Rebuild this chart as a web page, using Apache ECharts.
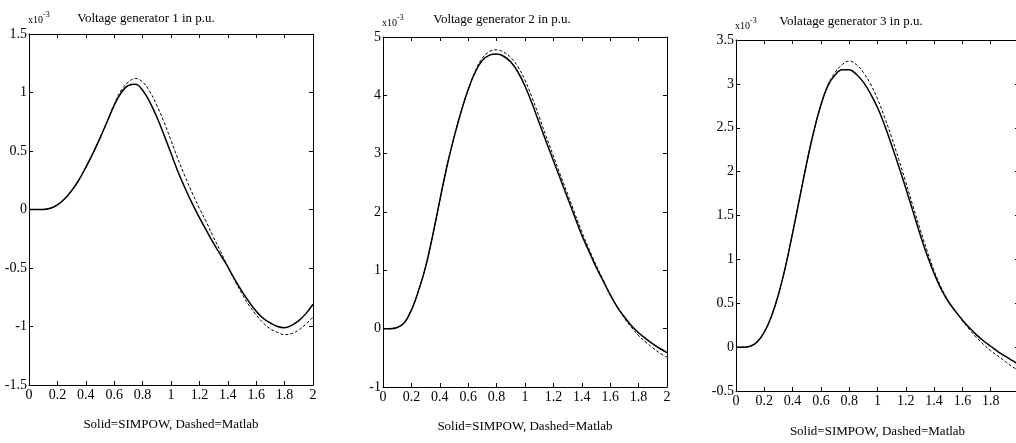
<!DOCTYPE html>
<html>
<head>
<meta charset="utf-8">
<script src="https://cdn.jsdelivr.net/npm/echarts@6/dist/echarts.min.js"></script>
<style>
html,body{margin:0;padding:0;background:#fff;}
#c{width:1016px;height:443px;}
</style>
</head>
<body>
<div id="c"></div>
<script>
// time axis (s), 0.05 s steps
const t = [0,0.05,0.1,0.15,0.2,0.25,0.3,0.35,0.4,0.45,0.5,0.55,0.6,0.65,0.7,0.75,0.8,0.85,0.9,0.95,
           1.0,1.05,1.1,1.15,1.2,1.25,1.3,1.35,1.4,1.45,1.5,1.55,1.6,1.65,1.7,1.75,1.8,1.85,1.9,1.95,2.0];
// values in units of 1e-3 p.u.
const gen1Simpow = [0,0,0,0.01,0.04,0.09,0.16,0.25,0.36,0.48,0.61,0.75,0.89,1.0,1.06,1.07,1.02,0.92,0.79,0.64,
                    0.48,0.32,0.18,0.05,-0.07,-0.18,-0.29,-0.39,-0.49,-0.6,-0.7,-0.79,-0.87,-0.93,-0.97,-1.0,-1.01,-0.99,-0.95,-0.89,-0.81];
const gen1Matlab = [0,0,0,0.01,0.04,0.09,0.16,0.25,0.36,0.48,0.61,0.75,0.9,1.02,1.09,1.12,1.09,1.01,0.89,0.75,
                    0.59,0.43,0.28,0.14,0.01,-0.11,-0.24,-0.36,-0.49,-0.61,-0.72,-0.82,-0.9,-0.97,-1.02,-1.05,-1.07,-1.06,-1.03,-0.98,-0.92];
const gen2Simpow = [0,0,0.02,0.1,0.32,0.65,1.06,1.6,2.2,2.78,3.28,3.72,4.1,4.4,4.6,4.69,4.71,4.67,4.57,4.4,
                    4.16,3.86,3.53,3.2,2.88,2.56,2.24,1.92,1.6,1.33,1.06,0.82,0.58,0.37,0.2,0.05,-0.07,-0.17,-0.26,-0.34,-0.41];
const gen2Matlab = [0,0,0.02,0.1,0.32,0.65,1.06,1.6,2.2,2.78,3.28,3.72,4.1,4.42,4.64,4.75,4.78,4.74,4.65,4.49,
                    4.26,3.96,3.63,3.29,2.96,2.63,2.31,1.98,1.66,1.37,1.09,0.84,0.59,0.37,0.18,0.02,-0.12,-0.23,-0.33,-0.42,-0.49];
const gen3Simpow = [0,0,0.01,0.06,0.17,0.35,0.6,0.92,1.3,1.7,2.1,2.46,2.76,2.98,3.1,3.16,3.16,3.11,3.02,2.89,
                    2.73,2.53,2.3,2.06,1.81,1.55,1.29,1.05,0.84,0.66,0.52,0.41,0.31,0.22,0.14,0.07,0.01,-0.05,-0.1,-0.15,-0.2];
const gen3Matlab = [0,0,0.01,0.06,0.17,0.35,0.6,0.92,1.3,1.7,2.1,2.46,2.76,2.99,3.13,3.22,3.26,3.22,3.13,3.0,
                    2.83,2.62,2.39,2.14,1.88,1.61,1.35,1.1,0.87,0.68,0.53,0.41,0.3,0.2,0.11,0.03,-0.04,-0.1,-0.16,-0.22,-0.27];

const titles = ['Voltage generator 1 in p.u.','Voltage generator 2 in p.u.','Volatage generator 3 in p.u.'];
const xLabelText = 'Solid=SIMPOW, Dashed=Matlab';
const yMins = [-1.5,-1,-0.5];
const yMaxs = [1.5,5,3.5];
const yIntervals = [0.5,1,0.5];
const simpow = [gen1Simpow, gen2Simpow, gen3Simpow];
const matlab = [gen1Matlab, gen2Matlab, gen3Matlab];

const FONT = '"Liberation Serif", "Times New Roman", serif';
const grids = [
  {left:29, top:34, width:284, height:351, outerBoundsMode:'none'},
  {left:383, top:37, width:284, height:350, outerBoundsMode:'none'},
  {left:736, top:40, width:283, height:351, outerBoundsMode:'none'}
];
const titleY = [19,20,22];
const titleX = [146,502,851];
const xlabY = [425,427,432];

const xAxes=[], yAxes=[], series=[], graphics=[];
grids.forEach((g,i)=>{
  const line = {show:true, onZero:false, lineStyle:{color:'#000', width:1}};
  const tick = {show:true, inside:true, length:4, lineStyle:{color:'#000', width:1}};
  xAxes.push({gridIndex:i, type:'value', position:'bottom', min:0, max:2, interval:0.2,
    axisLine:line, axisTick:tick, splitLine:{show:false},
    axisLabel:{color:'#000', fontFamily:FONT, fontSize:14, margin:3, showMaxLabel:i<2}});
  xAxes.push({gridIndex:i, type:'value', position:'top', min:0, max:2, interval:0.2,
    axisLine:line, axisTick:tick, splitLine:{show:false}, axisLabel:{show:false}});
  yAxes.push({gridIndex:i, type:'value', position:'left', min:yMins[i], max:yMaxs[i], interval:yIntervals[i],
    axisLine:line, axisTick:tick, splitLine:{show:false},
    axisLabel:{color:'#000', fontFamily:FONT, fontSize:14, margin:2}});
  yAxes.push({gridIndex:i, type:'value', position:'right', min:yMins[i], max:yMaxs[i], interval:yIntervals[i],
    axisLine:line, axisTick:tick, splitLine:{show:false}, axisLabel:{show:false}});
  series.push({type:'line', xAxisIndex:2*i, yAxisIndex:2*i, data:t.map((x,k)=>[x, matlab[i][k]]),
    smooth:0.4, showSymbol:false, lineStyle:{color:'#000', width:1, type:[3,2]}, silent:true});
  series.push({type:'line', xAxisIndex:2*i, yAxisIndex:2*i, data:t.map((x,k)=>[x, simpow[i][k]]),
    smooth:0.4, showSymbol:false, lineStyle:{color:'#000', width:1.5}, silent:true});
  graphics.push({type:'text', x:titleX[i], y:titleY[i], style:{text:titles[i], fill:'#000',
    font:'13px '+FONT, align:'center', verticalAlign:'middle'}});
  graphics.push({type:'text', x:g.left+g.width/2, y:xlabY[i], style:{text:xLabelText, fill:'#000',
    font:'13px '+FONT, align:'center', verticalAlign:'middle'}});
  graphics.push({type:'text', x:g.left-1, y:g.top-14, style:{text:'x10', fill:'#000',
    font:'10px '+FONT, align:'left', verticalAlign:'middle'}});
  graphics.push({type:'text', x:g.left+14, y:g.top-19, style:{text:'-3', fill:'#000',
    font:'8px '+FONT, align:'left', verticalAlign:'middle'}});
});

const chart = echarts.init(document.getElementById('c'), null, {renderer:'canvas'});
chart.setOption({
  animation:false,
  backgroundColor:'#fff',
  grid:grids,
  xAxis:xAxes,
  yAxis:yAxes,
  series:series,
  graphic:graphics
});
</script>
</body>
</html>
